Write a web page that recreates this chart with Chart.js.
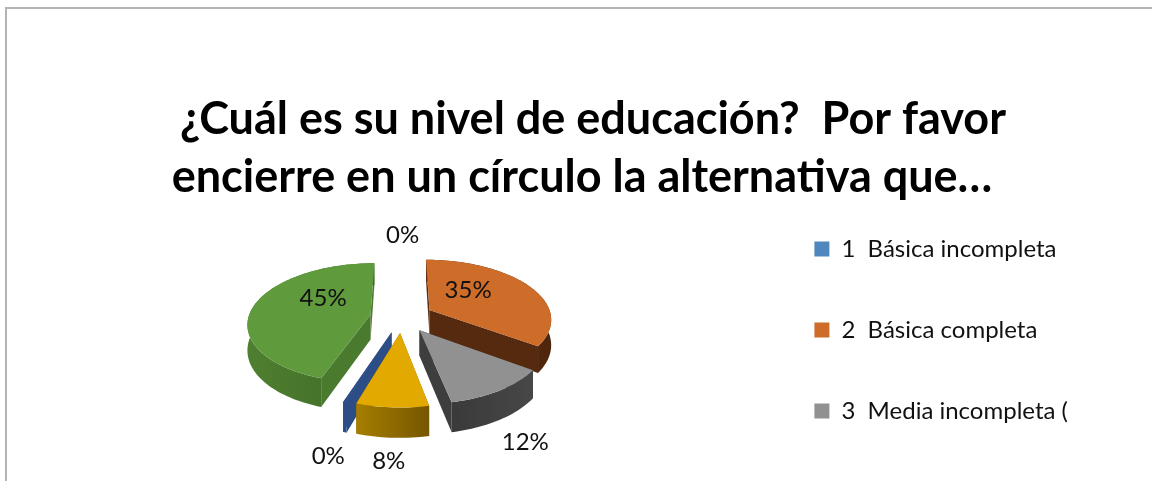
<!DOCTYPE html>
<html>
<head>
<meta charset="utf-8">
<script src="https://cdn.jsdelivr.net/npm/chart.js@4/dist/chart.umd.min.js"></script>
<style>
  html, body { margin: 0; padding: 0; background: #fff; overflow: hidden; width: 1152px; height: 481px; }
  #frame { position: absolute; left: 5px; top: 7px; width: 1200px; height: 600px; border: 2px solid #b4b4b4; box-sizing: border-box; }
  #wrap { position: absolute; left: 0; top: 0; width: 1164px; height: 560px; }
</style>
</head>
<body>
<div id="frame"></div>
<div id="wrap"><canvas id="chartNivel" width="1164" height="560"></canvas></div>
<script>
// Datos (las categorias 4 a 6 quedan cortadas en la leyenda)
const categorias = ['1  Básica incompleta', '2  Básica completa', '3  Media incompleta (', '', '', ''];
const valores = [0, 35, 12, 8, 0.4, 45];
const tituloLineas = ['  ¿Cuál es su nivel de educación?  Por favor', 'encierre en un círculo la alternativa que…'];

const coloresTapa = ['#4f86bd', '#ce6d2a', '#919191', '#e2a900', '#2f5089', '#5f9a3c'];
const coloresLado = ['#3a6391', '#562a0e', '#3e3e3e', '#7a5a00', '#2c4d86', '#4a7a2e'];
const paredDesde = ['#3a6391', '#5e2f10', '#3a3a3a', '#a67e00', '#2c4d86', '#4f7f30'];
const paredHasta = ['#3a6391', '#4e260c', '#474747', '#765600', '#2c4d86', '#3f6a26'];
// desplazamiento de cada etiqueta respecto al centro de su porcion
const etiquetaDx = [1, -22, 60, -7, -37, 23];
const etiquetaDy = [-36, -5, 78, 86, 85, -11];

const radio = 122;
const aplaste = 0.485;
const perspectiva = 0.14;
const separacion = 0.26;
const profundidad = 25;
const centroDx = -20;
const centroDy = -53;
const leyendaDx = 86;

function proyectar(arc, u, v, z) {
  const s = 1 / (1 - perspectiva * v);
  return {
    x: arc.x + centroDx + radio * u * s,
    y: arc.y + centroDy + radio * aplaste * v * s + z * s,
  };
}

function trazar(ctx, puntos) {
  ctx.beginPath();
  puntos.forEach((p, i) => (i === 0 ? ctx.moveTo(p.x, p.y) : ctx.lineTo(p.x, p.y)));
  ctx.closePath();
  ctx.fill();
}

function puntosBorde(arc, du, dv, z) {
  const pasos = Math.max(2, Math.ceil((arc.endAngle - arc.startAngle) / 0.03));
  const salida = [];
  for (let i = 0; i <= pasos; i += 1) {
    const a = arc.startAngle + (arc.endAngle - arc.startAngle) * (i / pasos);
    salida.push(proyectar(arc, du + Math.cos(a), dv + Math.sin(a), z));
  }
  return salida;
}

const pastel3d = {
  id: 'pastel3d',
  afterLayout(chart) {
    chart.legend.left -= leyendaDx;
  },
  beforeDatasetDraw(chart, args) {
    const ctx = chart.ctx;
    const arcos = args.meta.data
      .map((arc, i) => ({ arc, i, medio: (arc.startAngle + arc.endAngle) / 2 }))
      .filter((o) => o.arc.endAngle - o.arc.startAngle > 0)
      .sort((a, b) => Math.sin(a.medio) - Math.sin(b.medio));

    for (const { arc, i, medio } of arcos) {
      const du = separacion * Math.cos(medio);
      const dv = separacion * Math.sin(medio);
      const arriba = puntosBorde(arc, du, dv, 0);
      const abajo = puntosBorde(arc, du, dv, profundidad);
      const vertice = proyectar(arc, du, dv, 0);
      const verticeAbajo = proyectar(arc, du, dv, profundidad);

      ctx.fillStyle = coloresLado[i];
      trazar(ctx, [vertice, arriba[0], abajo[0], verticeAbajo]);
      trazar(ctx, [vertice, arriba[arriba.length - 1], abajo[abajo.length - 1], verticeAbajo]);

      const xs = arriba.map((p) => p.x);
      const grad = ctx.createLinearGradient(Math.min(...xs), 0, Math.max(...xs), 0);
      grad.addColorStop(0, paredDesde[i]);
      grad.addColorStop(1, paredHasta[i]);
      ctx.fillStyle = grad;
      trazar(ctx, arriba.concat(abajo.slice().reverse()));

      ctx.fillStyle = coloresTapa[i];
      trazar(ctx, [vertice].concat(arriba));
    }
    return false;
  },
  afterDatasetsDraw(chart) {
    const ctx = chart.ctx;
    ctx.save();
    ctx.font = '24px Lato';
    ctx.fillStyle = '#111';
    ctx.textAlign = 'center';
    ctx.textBaseline = 'middle';
    const total = valores.reduce((a, b) => a + b, 0);
    chart.getDatasetMeta(0).data.forEach((arc, i) => {
      const medio = (arc.startAngle + arc.endAngle) / 2;
      const p = proyectar(arc, (separacion + 0.6) * Math.cos(medio), (separacion + 0.6) * Math.sin(medio), 0);
      ctx.fillText(Math.round((valores[i] / total) * 100) + '%', p.x + etiquetaDx[i], p.y + etiquetaDy[i]);
    });
    ctx.restore();
  },
};

new Chart(document.getElementById('chartNivel'), {
  type: 'pie',
  data: {
    labels: categorias,
    datasets: [{ data: valores, backgroundColor: coloresTapa, borderWidth: 0 }],
  },
  options: {
    responsive: false,
    animation: false,
    events: [],
    plugins: {
      tooltip: { enabled: false },
      title: {
        display: true,
        text: tituloLineas,
        color: '#000',
        font: { family: 'Lato', size: 45, weight: 'bold', lineHeight: 1.289 },
        padding: { top: 90, bottom: -26 },
      },
      legend: {
        position: 'right',
        align: 'start',
        fullSize: false,
        labels: {
          boxWidth: 15,
          boxHeight: 15,
          padding: 57,
          color: '#111',
          font: { family: 'Lato', size: 24 },
          filter: (item) => item.text !== '',
        },
      },
    },
  },
  plugins: [pastel3d],
});
</script>
</body>
</html>
